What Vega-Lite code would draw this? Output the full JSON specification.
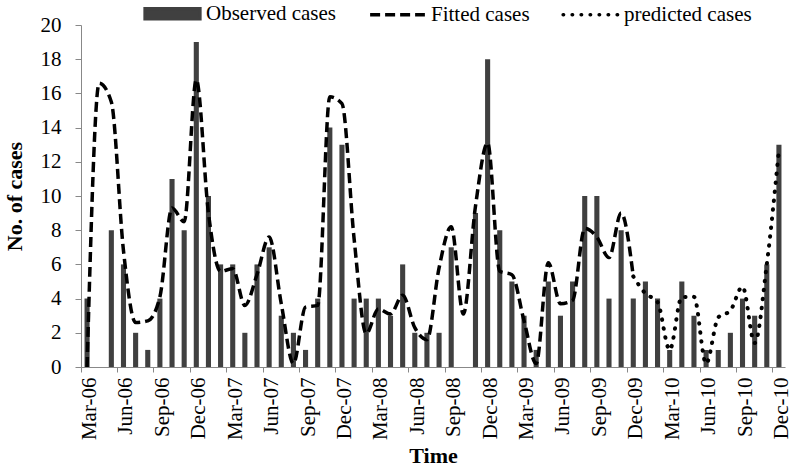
{
  "$schema": "https://vega.github.io/schema/vega-lite/v6.json",
  "width": 704,
  "height": 342,
  "autosize": "none",
  "padding": {"left": 81, "top": 25, "right": 7, "bottom": 106},
  "background": "white",
  "config": {
    "view": {"stroke": null},
    "font": "Liberation Serif",
    "axisY": {
      "values": [0, 2, 4, 6, 8, 10, 12, 14, 16, 18, 20],
      "labelOverlap": false,
      "grid": false,
      "labelFont": "Liberation Serif",
      "labelFontSize": 21,
      "labelColor": "#000000",
      "labelPadding": 14,
      "tickSize": 6,
      "tickColor": "#888888",
      "domainColor": "#888888",
      "titleFont": "Liberation Serif",
      "titleFontSize": 22,
      "titleFontWeight": "bold",
      "titleColor": "#000000",
      "titlePadding": 14
    }
  },
  "data": {"values": [
    {"m": "Mar-06", "obs": 4, "fit": 0},
    {"m": "Apr-06", "obs": 0, "fit": 16.6},
    {"m": "May-06", "obs": 8, "fit": 15.5},
    {"m": "Jun-06", "obs": 6, "fit": 6.8},
    {"m": "Jul-06", "obs": 2, "fit": 2.6},
    {"m": "Aug-06", "obs": 1, "fit": 2.7},
    {"m": "Sep-06", "obs": 4, "fit": 4.1},
    {"m": "Oct-06", "obs": 11, "fit": 9.3},
    {"m": "Nov-06", "obs": 8, "fit": 8.5},
    {"m": "Dec-06", "obs": 19, "fit": 16.8},
    {"m": "Jan-07", "obs": 10, "fit": 9.0},
    {"m": "Feb-07", "obs": 6, "fit": 5.6},
    {"m": "Mar-07", "obs": 6, "fit": 5.75},
    {"m": "Apr-07", "obs": 2, "fit": 3.6},
    {"m": "May-07", "obs": 6, "fit": 5.4},
    {"m": "Jun-07", "obs": 7, "fit": 7.6},
    {"m": "Jul-07", "obs": 3, "fit": 3.7},
    {"m": "Aug-07", "obs": 2, "fit": 0.2},
    {"m": "Sep-07", "obs": 1, "fit": 3.5},
    {"m": "Oct-07", "obs": 4, "fit": 3.6},
    {"m": "Nov-07", "obs": 14, "fit": 15.8},
    {"m": "Dec-07", "obs": 13, "fit": 15.4},
    {"m": "Jan-08", "obs": 4, "fit": 7.5},
    {"m": "Feb-08", "obs": 4, "fit": 1.95},
    {"m": "Mar-08", "obs": 4, "fit": 3.4},
    {"m": "Apr-08", "obs": 3, "fit": 3.1},
    {"m": "May-08", "obs": 6, "fit": 4.2},
    {"m": "Jun-08", "obs": 2, "fit": 2.3},
    {"m": "Jul-08", "obs": 2, "fit": 1.6},
    {"m": "Aug-08", "obs": 2, "fit": 5.8},
    {"m": "Sep-08", "obs": 7, "fit": 8.2},
    {"m": "Oct-08", "obs": 0, "fit": 3.1},
    {"m": "Nov-08", "obs": 9, "fit": 9.4},
    {"m": "Dec-08", "obs": 18, "fit": 13.1},
    {"m": "Jan-09", "obs": 8, "fit": 5.6},
    {"m": "Feb-09", "obs": 5, "fit": 5.4},
    {"m": "Mar-09", "obs": 3, "fit": 2.7},
    {"m": "Apr-09", "obs": 1, "fit": 0.2},
    {"m": "May-09", "obs": 5, "fit": 6.1},
    {"m": "Jun-09", "obs": 3, "fit": 3.7},
    {"m": "Jul-09", "obs": 5, "fit": 3.9},
    {"m": "Aug-09", "obs": 10, "fit": 8.1},
    {"m": "Sep-09", "obs": 10, "fit": 7.6},
    {"m": "Oct-09", "obs": 4, "fit": 6.4},
    {"m": "Nov-09", "obs": 8, "fit": 9.0},
    {"m": "Dec-09", "obs": 4, "fit": 5.3, "pred": 5.3},
    {"m": "Jan-10", "obs": 5, "pred": 4.3},
    {"m": "Feb-10", "obs": 4, "pred": 3.8},
    {"m": "Mar-10", "obs": 1, "pred": 1.0},
    {"m": "Apr-10", "obs": 5, "pred": 4.1},
    {"m": "May-10", "obs": 3, "pred": 4.1},
    {"m": "Jun-10", "obs": 1, "pred": 0.2},
    {"m": "Jul-10", "obs": 1, "pred": 2.9},
    {"m": "Aug-10", "obs": 2, "pred": 3.3},
    {"m": "Sep-10", "obs": 4, "pred": 4.7},
    {"m": "Oct-10", "obs": 3, "pred": 1.4},
    {"m": "Nov-10", "obs": 6, "pred": 6.0},
    {"m": "Dec-10", "obs": 13, "pred": 12.7}
  ]},
  "encoding": {
    "x": {
      "field": "m",
      "type": "ordinal",
      "scale": {
        "domain": ["Mar-06","Apr-06","May-06","Jun-06","Jul-06","Aug-06","Sep-06","Oct-06","Nov-06","Dec-06","Jan-07","Feb-07","Mar-07","Apr-07","May-07","Jun-07","Jul-07","Aug-07","Sep-07","Oct-07","Nov-07","Dec-07","Jan-08","Feb-08","Mar-08","Apr-08","May-08","Jun-08","Jul-08","Aug-08","Sep-08","Oct-08","Nov-08","Dec-08","Jan-09","Feb-09","Mar-09","Apr-09","May-09","Jun-09","Jul-09","Aug-09","Sep-09","Oct-09","Nov-09","Dec-09","Jan-10","Feb-10","Mar-10","Apr-10","May-10","Jun-10","Jul-10","Aug-10","Sep-10","Oct-10","Nov-10","Dec-10"],
        "paddingInner": 0,
        "paddingOuter": 0
      },
      "axis": {
        "title": "Time",
        "values": ["Mar-06","Jun-06","Sep-06","Dec-06","Mar-07","Jun-07","Sep-07","Dec-07","Mar-08","Jun-08","Sep-08","Dec-08","Mar-09","Jun-09","Sep-09","Dec-09","Mar-10","Jun-10","Sep-10","Dec-10"],
        "bandPosition": 0,
        "labelAngle": -90,
        "labelAlign": "right",
        "labelBaseline": "top",
        "labelOffset": -8,
        "labelOverlap": false,
        "labelBound": false,
        "labelFont": "Liberation Serif",
        "labelFontSize": 21,
        "labelColor": "#000000",
        "labelPadding": 5,
        "tickSize": 5,
        "tickColor": "#888888",
        "domainColor": "#888888",
        "grid": false,
        "titleFont": "Liberation Serif",
        "titleFontSize": 22,
        "titleFontWeight": "bold",
        "titleColor": "#000000",
        "titlePadding": 6
      }
    }
  },
  "layer": [
    {
      "mark": {"type": "bar", "width": {"band": 0.42}},
      "encoding": {
        "y": {
          "field": "obs",
          "type": "quantitative",
          "scale": {"domain": [0, 20]},
          "axis": {"title": "No. of cases", "values": [0, 2, 4, 6, 8, 10, 12, 14, 16, 18, 20], "labelOverlap": false}
        },
        "color": {
          "datum": "Observed cases",
          "type": "nominal",
          "scale": {
            "domain": ["Observed cases", "Fitted cases", "predicted cases"],
            "range": ["#404040", "#000000", "#000000"]
          },
          "legend": {
            "title": null,
            "orient": "none",
            "legendX": 62,
            "legendY": -41,
            "direction": "horizontal",
            "columns": 3,
            "columnPadding": 26,
            "symbolSize": 3000,
            "symbolType": "stroke",
            "labelOffset": 4,
            "labelFont": "Liberation Serif",
            "labelFontSize": 21,
            "labelColor": "#000000",
            "encode": {
              "symbols": {
                "update": {
                  "shape": {"signal": "datum.value === 'Observed cases' ? 'M-1,-0.18L1,-0.18L1,0.18L-1,0.18Z' : 'stroke'"},
                  "fill": {"signal": "datum.value === 'Observed cases' ? '#404040' : 'transparent'"},
                  "stroke": {"signal": "datum.value === 'Observed cases' ? 'transparent' : '#000000'"},
                  "strokeWidth": {"value": 3.5},
                  "strokeDash": {"signal": "datum.value === 'Fitted cases' ? [10, 5] : (datum.value === 'predicted cases' ? [0.5, 8.5] : [1, 0])"},
                  "strokeCap": {"signal": "datum.value === 'predicted cases' ? 'round' : 'butt'"},
                  "opacity": {"value": 1}
                }
              }
            }
          }
        }
      }
    },
    {
      "mark": {"type": "line", "interpolate": "monotone", "strokeDash": [10, 5], "strokeWidth": 3.5, "clip": true},
      "encoding": {
        "y": {"field": "fit", "type": "quantitative", "axis": {"title": "No. of cases", "values": [0, 2, 4, 6, 8, 10, 12, 14, 16, 18, 20], "labelOverlap": false}},
        "color": {"datum": "Fitted cases", "type": "nominal"}
      }
    },
    {
      "mark": {"type": "line", "interpolate": "monotone", "strokeDash": [0.5, 8.5], "strokeCap": "round", "strokeWidth": 4, "clip": true},
      "encoding": {
        "y": {"field": "pred", "type": "quantitative", "axis": {"title": "No. of cases", "values": [0, 2, 4, 6, 8, 10, 12, 14, 16, 18, 20], "labelOverlap": false}},
        "color": {"datum": "predicted cases", "type": "nominal"}
      }
    }
  ]
}
